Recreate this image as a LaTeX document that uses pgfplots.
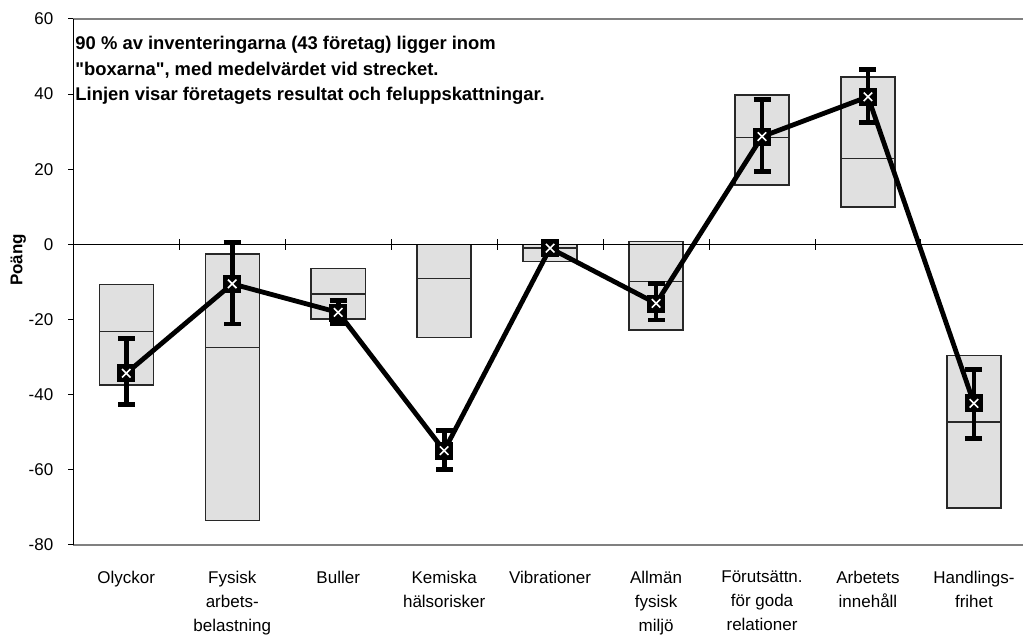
\documentclass[border=0pt]{standalone}
\usepackage{fontspec}
\setmainfont{Liberation Sans}[Ligatures=TeXOff]
\usepackage{pgfplots}
\pgfplotsset{compat=1.18}
\usepgfplotslibrary{statistics}
\usepackage{pgfplotstable}

\definecolor{boxfill}{RGB}{224,224,224}
\definecolor{boxedge}{RGB}{40,40,40}
\definecolor{frame}{RGB}{128,128,128}

% company result (mean) with error bars
\pgfplotstableread{
x  y      ep    em
0  -34.3  9.3   8.3
1  -10.5  11.1  10.7
2  -18.1  3.1   3.0
3  -54.9  5.3   5.1
4  -1.0   0.8   0.8
5  -15.7  5.3   4.4
6  28.7   9.9   9.3
7  39.3   7.3   6.9
8  -42.3  9.1   9.4
}\company

\newcommand{\rangebox}[4]{% pos, low, median, high
  \addplot[draw=boxedge, line width=0.7pt, fill=boxfill, solid,
    boxplot/draw direction=y,
    boxplot prepared={draw position=#1, lower whisker=#2, lower quartile=#2,
      median=#3, upper quartile=#4, upper whisker=#4, box extend=0.51,
      whisker extend=0}]
    coordinates {};
}
\newcommand{\zerotick}[1]{%
  \draw[black, line width=0.5pt] ([yshift=-2.6pt]axis cs:#1,0) -- ([yshift=2.6pt]axis cs:#1,0);}

\begin{document}
\begin{tikzpicture}
\begin{axis}[
    scale only axis,
    width=474.85pt, height=263pt,
    xmin=-0.5, xmax=8.463,
    ymin=-80, ymax=60,
    axis y line=left,
    separate axis lines,
    y axis line style={black, line width=0.5pt, -},
    x axis line style={frame, line width=0.7pt},
    ytick={-80,-60,...,60},
    ytick pos=left,
    tick align=outside,
    major tick length=2.5pt,
    ytick style={black, line width=0.5pt},
    yticklabel style={font=\fontsize{8.5}{10}\selectfont, xshift=-4pt},
    /pgf/number format/assume math mode=true,
    xtick={0,...,8},
    xtick style={draw=none},
    xticklabels={Olyckor, Fysisk\\arbets-\\belastning, Buller, Kemiska\\hälsorisker,
      Vibrationer, Allmän\\fysisk\\miljö, Förutsättn.\\för goda\\relationer,
      Arbetets\\innehåll, Handlings-\\frihet},
    xticklabel style={font=\fontsize{8.5}{12}\selectfont, align=center, yshift=-7pt},
    ylabel={\bfseries Poäng},
    ylabel style={font=\fontsize{8.5}{10}\selectfont, at={(rel axis cs:-0.058,0.542)}, anchor=center, rotate=0},
    clip=false,
]
\rangebox{0}{-37.4}{-23.1}{-10.6}
\rangebox{1}{-73.5}{-27.5}{-2.6}
\rangebox{2}{-19.9}{-13.2}{-6.4}
\rangebox{3}{-24.7}{-9.0}{0}
\rangebox{4}{-4.5}{-1.0}{0}
\rangebox{5}{-22.8}{-9.9}{0.7}
\rangebox{6}{15.8}{28.4}{39.8}
\rangebox{7}{10.0}{22.8}{44.6}
\rangebox{8}{-70.2}{-47.3}{-29.6}

% zero line with category ticks
\draw[black, line width=0.5pt] (axis cs:-0.5,0) -- (axis cs:8.463,0);
\zerotick{0.5}\zerotick{1.5}\zerotick{2.5}\zerotick{3.5}
\zerotick{4.5}\zerotick{5.5}\zerotick{6.5}\zerotick{7.5}

% company line with error bars
\addplot[black, line width=2.4pt, mark=none,
  error bars/.cd, y dir=both, y explicit, error mark=|,
  error bar style={line width=2.4pt, black, solid},
  error mark options={black, solid, mark size=4.25pt, line width=2.4pt}]
  table[x=x, y=y, y error plus=ep, y error minus=em] {\company};
\addplot[only marks, mark=square*, mark size=4.25pt,
  mark options={fill=black, draw=none}]
  table[x=x, y=y] {\company};
\addplot[only marks, white, mark=x, mark size=3pt, mark options={line width=0.8pt}]
  table[x=x, y=y] {\company};

\node[anchor=north west, align=left, inner sep=0pt,
  font=\fontsize{9.2}{12.75}\selectfont\bfseries]
  at ([shift={(0.9pt,-8.6pt)}]rel axis cs:0,1)
  {90 \% av inventeringarna (43 företag) ligger inom\\
   "boxarna", med medelvärdet vid strecket.\\
   Linjen visar företagets resultat och feluppskattningar.};

\coordinate (sw) at (rel axis cs:0,0);
\coordinate (ne) at (rel axis cs:1,1);
\end{axis}
\pgfresetboundingbox
\path[use as bounding box] ([shift={(-36.65pt,-46pt)}]sw) rectangle ([shift={(0pt,9.5pt)}]ne);
\end{tikzpicture}
\end{document}
